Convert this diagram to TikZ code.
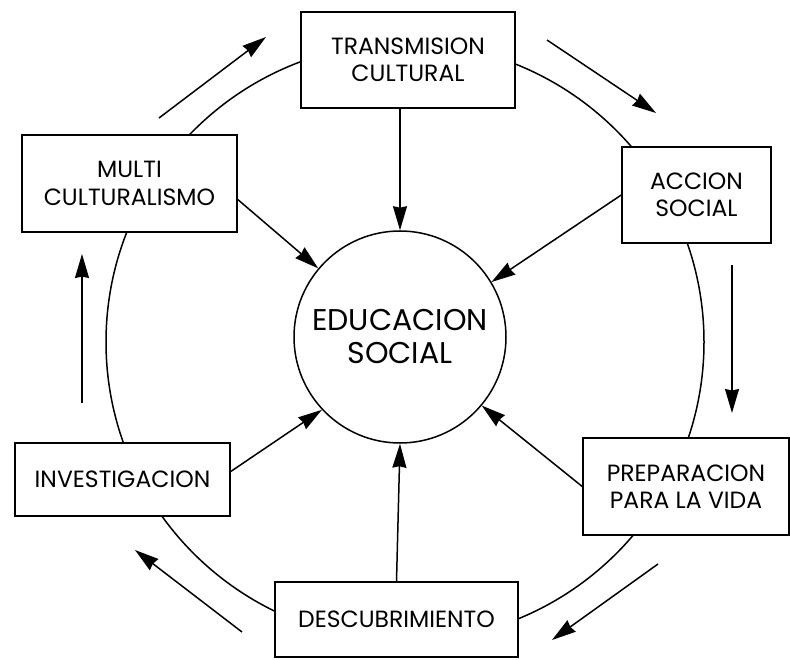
\documentclass[tikz,border=0pt]{standalone}
\usepackage{fontspec}
\setmainfont{Poppins}
\usepackage{tikz}
\usetikzlibrary{arrows.meta}

\begin{document}
\begin{tikzpicture}[x=1pt,y=-1pt,line width=1.5pt,
  >={Stealth[length=24pt,width=14pt,inset=1.5pt]},
  box/.style={draw,fill=white,align=center,inner sep=0pt,font=\fontsize{23.5}{27.5}\selectfont},
  hub/.style={draw,circle,minimum size=212pt,inner sep=0pt,align=center,font=\fontsize{30}{33}\selectfont}]
  \useasboundingbox (0,0) rectangle (790,660);
  % Draw outer ring
  \draw (405,342) circle[radius=299pt];
  \node[hub] (E) at (400,337) {EDUCACION\\SOCIAL};
  \node[box,minimum width=214pt,minimum height=96pt] (T) at (408,60) {TRANSMISION\\CULTURAL};
  \node[box,minimum width=149pt,minimum height=96pt] (A) at (696.5,195) {ACCION\\SOCIAL};
  \node[box,minimum width=206pt,minimum height=97pt] (P) at (686,486.5) {PREPARACION\\PARA LA VIDA};
  \node[box,minimum width=243pt,minimum height=75pt] (D) at (396.5,619.5) {DESCUBRIMIENTO};
  \node[box,minimum width=215pt,minimum height=73pt] (I) at (122.5,479.5) {INVESTIGACION};
  \node[box,minimum width=215pt,minimum height=97pt] (M) at (129.5,183.5) {MULTI\\CULTURALISMO};
  % Arrows into the hub
  \path[->] ([xshift=-8pt]T.south) edge (E.north)
    (A.west) edge (E.31)
    (P.west) edge (E.320)
    (D.north) edge (E.south)
    ([yshift=8pt]I.east) edge (E.223)
    ([yshift=-16pt]M.east) edge (E.140);
  % Arrows round the ring
  \coordinate (a1) at (159,118); \coordinate (a2) at (266,37);
  \coordinate (b1) at (547,40);  \coordinate (b2) at (656,113);
  \coordinate (c1) at (732,265); \coordinate (c2) at (732,413);
  \coordinate (d1) at (658,564); \coordinate (d2) at (552,640);
  \coordinate (e1) at (242,632); \coordinate (e2) at (135,550);
  \coordinate (f1) at (82,403);  \coordinate (f2) at (82,254);
  \path[->] (a1) edge (a2) (b1) edge (b2) (c1) edge (c2)
    (d1) edge (d2) (e1) edge (e2) (f1) edge (f2);
\end{tikzpicture}
\end{document}
